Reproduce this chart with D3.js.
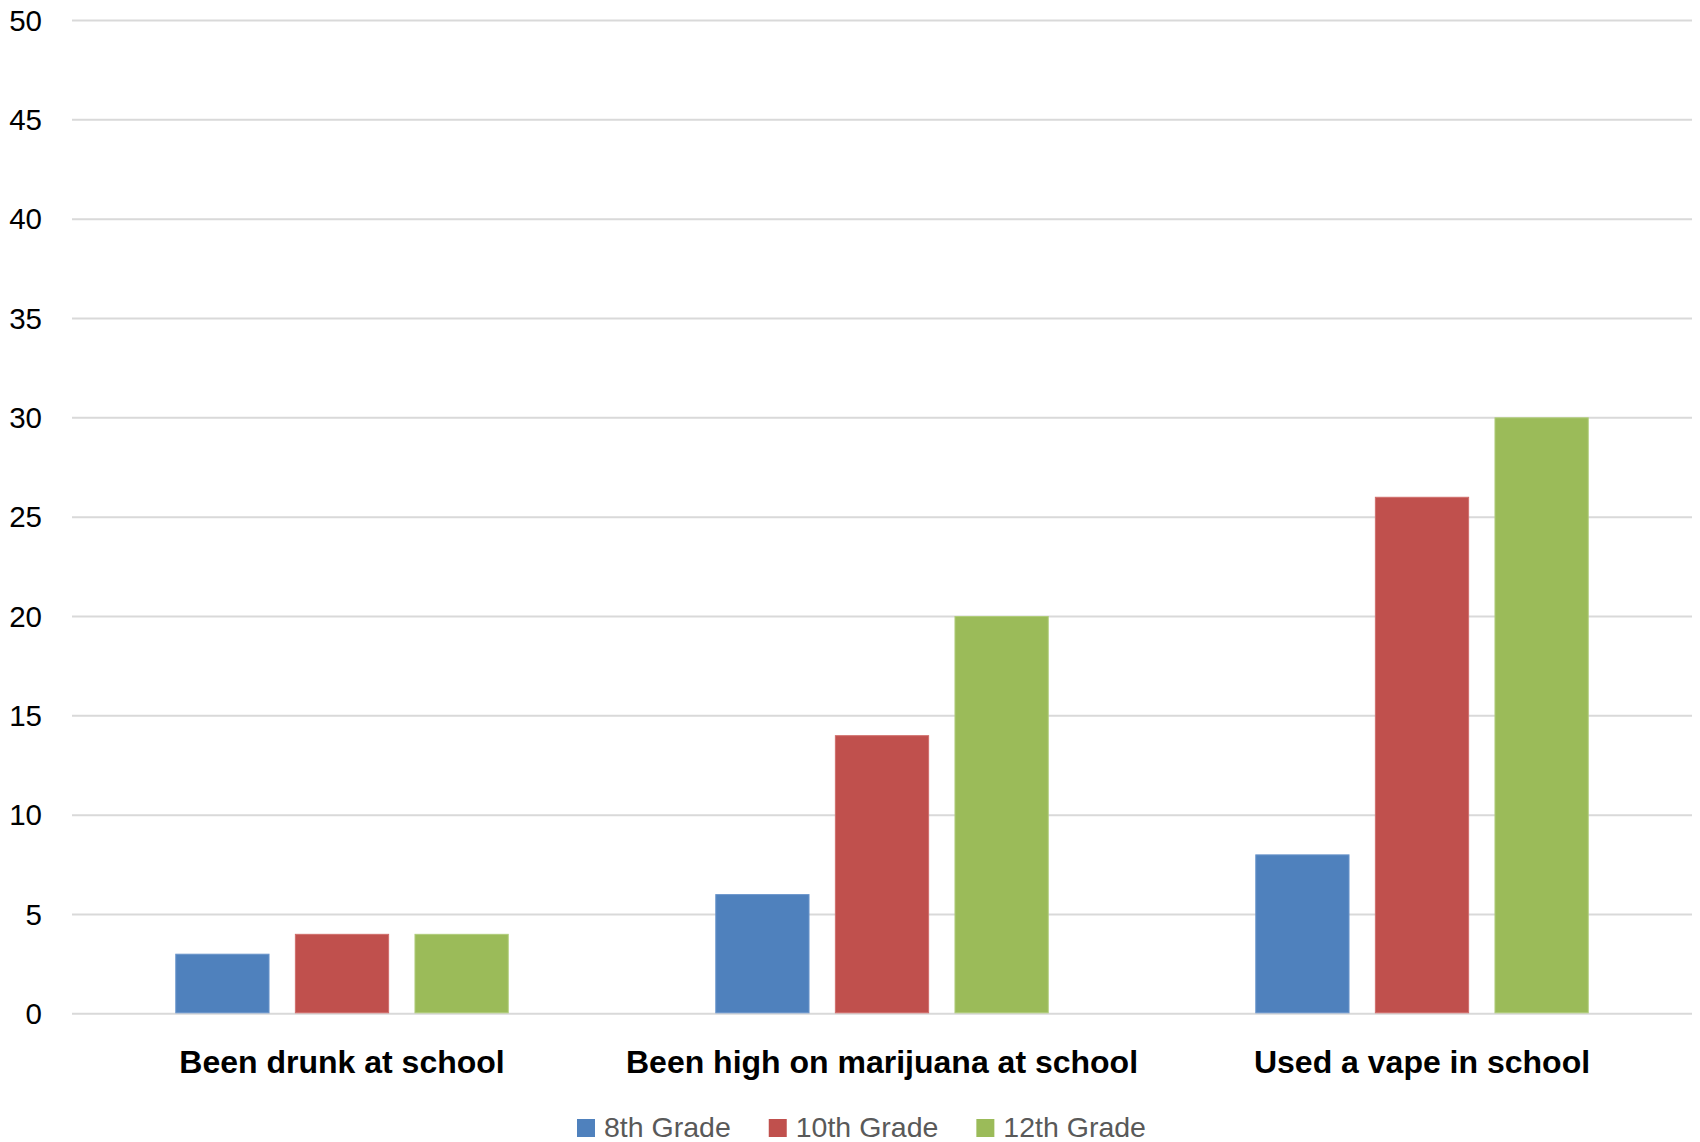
<!DOCTYPE html>
<html>
<head>
<meta charset="utf-8">
<script src="https://cdn.jsdelivr.net/npm/d3@7"></script>
<style>
  html, body { margin: 0; padding: 0; background: #fff; }
  svg { display: block; }
</style>
</head>
<body>
<svg id="chart" width="1700" height="1142"></svg>
<script>
const categories = ["Been drunk at school", "Been high on marijuana at school", "Used a vape in school"];
const seriesNames = ["8th Grade", "10th Grade", "12th Grade"];
const grade8 = [3, 6, 8];
const grade10 = [4, 14, 26];
const grade12 = [4, 20, 30];
const yTicks = [0, 5, 10, 15, 20, 25, 30, 35, 40, 45, 50];
const colors = ["#4F81BD", "#C0504D", "#9BBB59"];
const edgeColors = ["#6A95CB", "#D06E6B", "#B0CC7A"];

(function () {
const seriesValues = [grade8, grade10, grade12];
const data = categories.map((c, i) => ({
  category: c,
  values: seriesNames.map((s, j) => ({ series: s, value: seriesValues[j][i], idx: j }))
}));

const svg = d3.select("#chart");
const plotLeft = 72, plotRight = 1692, plotTop = 20, plotBottom = 1013.3;

const x0 = d3.scaleBand().domain(categories).range([plotLeft, plotRight]).padding(0);
const x1 = d3.scaleBand().domain(seriesNames).range([0, x0.bandwidth()])
  .paddingInner(0.212).paddingOuter(0.8635);
const y = d3.scaleLinear().domain([0, 50]).range([plotBottom, plotTop]);

// gridlines
const yAxis = d3.axisLeft(y).tickValues(yTicks).tickSize(-(plotRight - plotLeft)).tickPadding(30).tickFormat(d3.format("d"));
const gy = svg.append("g").attr("transform", `translate(${plotLeft},0)`).call(yAxis);
gy.select(".domain").remove();
gy.selectAll(".tick line").attr("stroke", "#D9D9D9").attr("stroke-width", 2);
gy.selectAll(".tick text")
  .attr("font-family", "'Liberation Sans', Arial, sans-serif")
  .attr("font-size", 29.5).attr("fill", "#000").attr("dy", "0.35em");

// bars
const groups = svg.append("g").selectAll("g").data(data).join("g")
  .attr("transform", d => `translate(${x0(d.category)},0)`);
groups.selectAll("rect").data(d => d.values).join("rect")
  .attr("x", d => x1(d.series) + 0.5)
  .attr("y", d => y(d.value) + 0.5)
  .attr("width", x1.bandwidth() - 1)
  .attr("height", d => y(0) - y(d.value) - 1)
  .attr("fill", d => colors[d.idx])
  .attr("stroke", d => edgeColors[d.idx])
  .attr("stroke-width", 1);

// category axis labels
const xAxis = d3.axisBottom(x0).tickSize(0).tickPadding(0);
const gx = svg.append("g").call(xAxis);
gx.select(".domain").remove();
gx.selectAll(".tick text")
  .attr("y", 1073).attr("dy", 0)
  .attr("font-family", "'Liberation Sans', Arial, sans-serif")
  .attr("font-weight", "bold").attr("font-size", 32).attr("fill", "#000");

// legend
const legend = svg.append("g");
let lx = 577;
seriesNames.forEach((s, i) => {
  const g = legend.append("g");
  g.append("rect").attr("x", lx).attr("y", 1119).attr("width", 18).attr("height", 18).attr("fill", colors[i]);
  const t = g.append("text").attr("x", lx + 27).attr("y", 1137)
    .attr("font-family", "'Liberation Sans', Arial, sans-serif")
    .attr("font-size", 28.5).attr("fill", "#595959").text(s);
  const w = t.node().getComputedTextLength();
  lx = lx + 27 + w + 38;
});
})();
</script>
</body>
</html>
